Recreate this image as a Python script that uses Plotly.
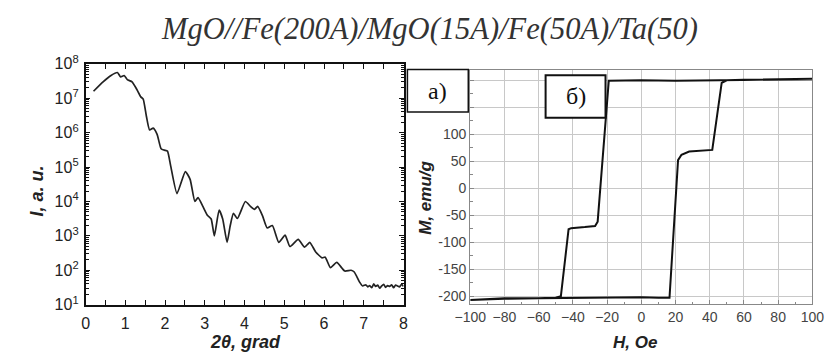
import plotly.graph_objects as go

# ---- data: X-ray reflectivity (left panel) ----
two_theta = [0.20, 0.44, 0.64, 0.80, 0.88, 0.97, 1.05, 1.17, 1.29, 1.39, 1.45, 1.53, 1.61, 1.70,
             1.80, 1.90, 1.98, 2.06, 2.14, 2.30, 2.51, 2.63, 2.75, 2.83, 2.95, 3.07, 3.16, 3.24,
             3.36, 3.45, 3.56, 3.64, 3.72, 3.82, 4.02, 4.15, 4.25, 4.33, 4.45, 4.57, 4.70, 4.86,
             5.02, 5.14, 5.35, 5.51, 5.64, 5.79, 5.95, 6.03, 6.16, 6.32, 6.52, 6.68, 6.76, 6.89,
             6.97, 7.05, 7.10, 7.15, 7.20, 7.25, 7.30, 7.35, 7.40, 7.45, 7.50, 7.55, 7.60, 7.65,
             7.70, 7.75, 7.80, 7.85, 7.90, 7.95, 8.00]
intensity = [1.6e7, 3.0e7, 4.6e7, 5.6e7, 4.2e7, 4.6e7, 3.5e7, 3.0e7, 1.8e7, 1.1e7, 9.5e6, 3.0e6,
             1.2e6, 1.35e6, 8.9e5, 3.4e5, 3.1e5, 2.9e5, 1.1e5, 1.7e4, 7.4e4, 4.4e4, 1.0e4, 1.3e4,
             7.2e3, 3.9e3, 3.1e3, 1.0e3, 5.6e3, 3.1e3, 6.5e2, 2.0e3, 4.5e3, 3.2e3, 1.0e4, 7.2e3,
             5.9e3, 7.2e3, 3.9e3, 1.7e3, 2.0e3, 6.5e2, 1.05e3, 4.9e2, 7.9e2, 4.7e2, 6.5e2, 3.4e2,
             2.3e2, 2.4e2, 1.2e2, 1.7e2, 95, 100, 89, 46, 35, 38, 33, 36, 31, 40, 34, 37, 30, 35,
             39, 32, 36, 34, 38, 31, 37, 35, 33, 39, 34]
log_tickvals = [1e1, 1e2, 1e3, 1e4, 1e5, 1e6, 1e7, 1e8]
log_ticktext = ["10<sup>%d</sup>" % k for k in range(1, 9)]
log_minor = [m * 10 ** k for k in range(1, 8) for m in range(2, 10)]

# ---- data: hysteresis loop (right panel) ----
H_loop = [100, 80, 60, 40, 20, 0, -10, -19, -25.5, -27, -33, -41, -42.5, -47, -50, -60, -80, -100,
          -100, -80, -60, -40, -20, 0, 10, 16.5, 21.5, 23.5, 28, 35, 41.5, 47, 50, 60, 80, 100]
M_loop = [202, 201, 200, 200, 199, 200, 200, 199, -62, -70, -72, -74, -76, -200, -203, -204, -204, -206,
          -207, -205, -204, -203, -203, -202, -203, -203, 52, 62, 68, 70, 71, 195, 200, 201, 202, 203]
h_ticks = list(range(-100, 101, 20))
m_ticks = [-200, -150, -100, -50, 0, 50, 100, 150, 200]
m_ticktext = ["-200", "-150", "-100", "-50", "0", "50", "100", "", ""]  # 150/200 hidden behind box a)

title_text = "MgO//Fe(200A)/MgO(15A)/Fe(50A)/Ta(50)"

W, Hh = 834, 359
def px(x): return x / W
def py(y): return 1 - y / Hh

fig = go.Figure()
fig.add_trace(go.Scatter(x=two_theta, y=intensity, mode="lines",
                         line=dict(color="#222", width=1.7, shape="spline", smoothing=0.5),
                         xaxis="x", yaxis="y", showlegend=False))
# invisible copy to carry the minor-tick overlay axis
fig.add_trace(go.Scatter(x=two_theta, y=intensity, mode="lines", opacity=0,
                         line=dict(width=0), hoverinfo="skip",
                         xaxis="x", yaxis="y3", showlegend=False))
fig.add_trace(go.Scatter(x=H_loop, y=M_loop, mode="lines",
                         line=dict(color="#111", width=2),
                         xaxis="x2", yaxis="y2", showlegend=False))

sans = "Liberation Sans, Arial, sans-serif"
serif = "Liberation Serif, Times New Roman, serif"

fig.update_layout(
    width=W, height=Hh, margin=dict(l=0, r=0, t=0, b=0),
    paper_bgcolor="white", plot_bgcolor="white",
    xaxis=dict(domain=[px(72), px(401)], range=[0, 8], dtick=1, ticks="inside", ticklen=5,
               mirror="allticks", showline=True, linecolor="#111", linewidth=1.5, showgrid=False,
               zeroline=False, tickfont=dict(family=sans, size=16, color="#222"),
               ticklabelstandoff=3,
               minor=dict(ticks="inside", ticklen=3, dtick=0.5, tickcolor="#111", showgrid=False),
               anchor="y", tickcolor="#111"),
    yaxis=dict(domain=[py(311), py(56)], type="log", range=[1, 8], tickvals=log_tickvals,
               ticktext=log_ticktext, ticks="inside", ticklen=5, mirror="allticks", showline=True,
               linecolor="#111", linewidth=1.5, showgrid=False, zeroline=False,
               tickfont=dict(family=sans, size=16, color="#222"), ticklabelstandoff=2,
               anchor="x", tickcolor="#111"),
    yaxis3=dict(overlaying="y", type="log", range=[1, 8], tickvals=log_minor, ticks="inside",
                ticklen=3, mirror="allticks", showline=False, showgrid=False, zeroline=False,
                showticklabels=False, anchor="x", tickcolor="#111", side="left"),
    xaxis2=dict(domain=[px(470), px(824)], range=[-100, 100], tickvals=h_ticks, ticks="inside",
                ticklen=4, mirror=True, showline=True, linecolor="#888", linewidth=1.2,
                showgrid=True, gridcolor="#c8c8c8", gridwidth=1, zeroline=False,
                tickfont=dict(family=sans, size=14, color="#444"), anchor="y2", tickcolor="#888",
                minor=dict(ticks="inside", ticklen=2, dtick=10, tickcolor="#888")),
    yaxis2=dict(domain=[py(310), py(62.7)], range=[-214, 218.6], tickvals=m_ticks,
                ticktext=m_ticktext, ticks="inside",
                ticklen=4, mirror=True, showline=True, linecolor="#888", linewidth=1.2,
                showgrid=True, gridcolor="#c8c8c8", gridwidth=1, zeroline=False,
                tickfont=dict(family=sans, size=14, color="#444"), anchor="x2", tickcolor="#888",
                minor=dict(ticks="inside", ticklen=3, dtick=25, tickcolor="#888")),
)

def ann(text, x, y, font, angle=0):
    return dict(text=text, x=px(x), y=py(y), xref="paper", yref="paper", showarrow=False,
                textangle=angle, font=font, xanchor="center", yanchor="middle")

annotations = [
    ann("<i>" + title_text + "</i>", 428, 19, dict(family=serif, size=30.5, color="#333")),
    ann("<b><i>I, a. u.</i></b>", 22, 191, dict(family=sans, size=18, color="#222"), -90),
    ann("<b><i>2θ, grad</i></b>", 237, 350, dict(family=sans, size=18, color="#222")),
    ann("<b><i>M, emu/g</i></b>", 424, 198, dict(family=sans, size=17, color="#222"), -90),
    ann("<b><i>H, Oe</i></b>", 641, 351, dict(family=sans, size=17, color="#222")),
    ann("a)", 436.5, 84.5, dict(family=serif, size=24, color="#111")),
    ann("б)", 579, 90.5, dict(family=serif, size=24, color="#111")),
]
fig.update_layout(annotations=annotations)

fig.update_layout(shapes=[
    dict(type="rect", xref="paper", yref="paper", x0=px(405), x1=px(468), y0=py(107), y1=py(62),
         fillcolor="white", line=dict(color="#111", width=1.5), layer="above"),
    dict(type="rect", xref="paper", yref="paper", x0=px(548), x1=px(610), y0=py(113), y1=py(68),
         fillcolor="white", line=dict(color="#111", width=2), layer="above"),
])

fig.write_html("out.html")
